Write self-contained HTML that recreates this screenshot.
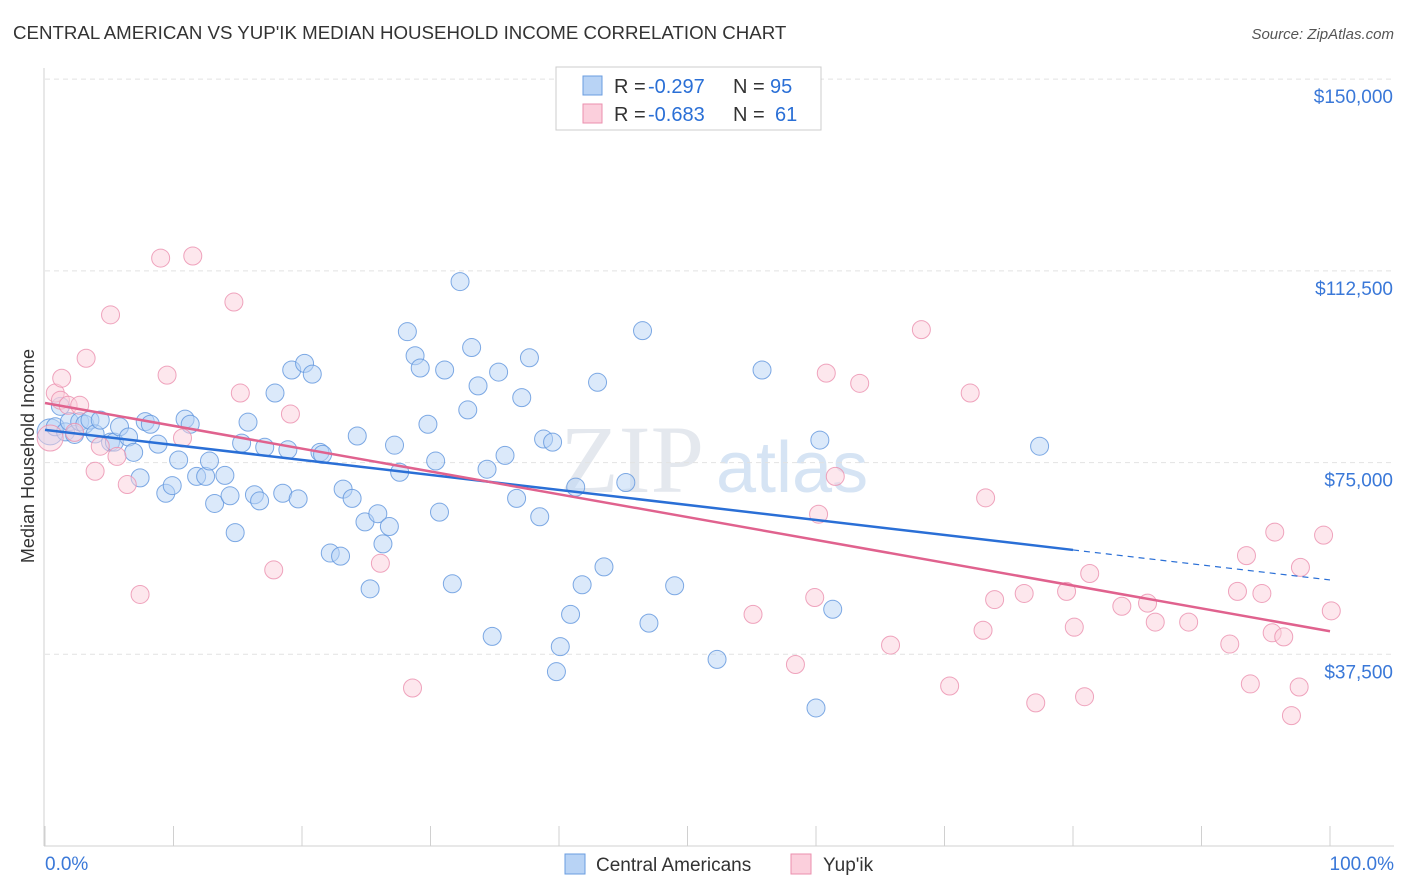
<!DOCTYPE html>
<html><head><meta charset="utf-8"><style>
body{margin:0;background:#fff;font-family:"Liberation Sans",sans-serif;}
svg{display:block}
</style></head><body>
<svg id="c" width="1406" height="892">
<text x="13" y="39" font-size="18.7" fill="#333">CENTRAL AMERICAN VS YUP'IK MEDIAN HOUSEHOLD INCOME CORRELATION CHART</text>
<text x="1394" y="39" font-size="15" fill="#555" text-anchor="end" font-style="italic">Source: ZipAtlas.com</text>
<text x="704" y="492" font-size="96" fill="#e4e8ee" text-anchor="end" font-family="Liberation Serif">ZIP</text>
<text x="716" y="492" font-size="72" fill="#d6e4f4">atlas</text>
<g id="grid"></g>
<g id="marks"></g>
<text transform="translate(34,456) rotate(-90)" font-size="18" fill="#333" text-anchor="middle">Median Household Income</text>
<g>
<rect x="556" y="67" width="265" height="63" fill="#fff" stroke="#ccc"/>
<rect x="583" y="76" width="19" height="19" fill="#b8d3f5" stroke="#6a9de0"/>
<rect x="583" y="104" width="19" height="19" fill="#fbcfdc" stroke="#eb8fae"/>
<text x="614" y="93" font-size="20" fill="#333">R =</text>
<text x="648" y="93" font-size="20" fill="#2a6fd6">-0.297</text>
<text x="733" y="93" font-size="20" fill="#333">N =</text>
<text x="770" y="93" font-size="20" fill="#2a6fd6">95</text>
<text x="614" y="121" font-size="20" fill="#333">R =</text>
<text x="648" y="121" font-size="20" fill="#2a6fd6">-0.683</text>
<text x="733" y="121" font-size="20" fill="#333">N =</text>
<text x="775" y="121" font-size="20" fill="#2a6fd6">61</text>
</g>
<g>
<rect x="565" y="854" width="20" height="20" fill="#b8d3f5" stroke="#6a9de0"/>
<text x="596" y="871" font-size="19" fill="#333">Central Americans</text>
<rect x="791" y="854" width="20" height="20" fill="#fbcfdc" stroke="#eb8fae"/>
<text x="823" y="871" font-size="19" fill="#333">Yup'ik</text>
</g>
</svg>
<script>
const yTicks=[37500,75000,112500,150000];
const yTickLabels=["$37,500","$75,000","$112,500","$150,000"];
const xTickLabels=["0.0%","100.0%"];
const blueX=[0.4,0.8,1.2,1.6,1.9,2.3,2.7,3.1,3.5,3.9,4.3,5.1,5.4,5.8,6.5,6.9,7.4,7.8,8.2,8.8,9.4,9.9,10.4,10.9,11.3,11.8,12.5,12.8,13.2,14.0,14.4,14.8,15.3,15.8,16.3,16.7,17.1,17.9,18.5,18.9,19.2,19.7,20.2,20.8,21.4,21.6,22.2,23.0,23.2,23.9,24.3,24.9,25.3,25.9,26.3,26.8,27.2,27.6,28.2,28.8,29.2,29.8,30.4,30.7,31.1,31.7,32.3,32.9,33.2,33.7,34.4,34.8,35.3,35.8,36.7,37.1,37.7,38.5,38.8,39.5,40.1,39.8,40.9,41.3,41.8,43.0,43.5,45.2,46.5,47.0,49.0,52.3,55.8,60.0,60.3,61.3,77.4];
const blueY=[81000,82000,86000,81000,83000,80500,83000,82500,83300,80600,83300,79000,79000,82000,80000,77000,72000,83000,82500,78600,69000,70500,75500,83500,82500,72300,72300,75300,67000,72500,68500,61300,78800,82900,68700,67500,78000,88600,69000,77500,93100,67900,94400,92300,77000,76600,57300,56700,69800,68000,80200,63400,50300,65000,59100,62500,78400,73100,100600,95900,93500,82500,75300,65300,93100,51300,110400,85300,97500,90000,73700,41000,92700,76400,68000,87700,95500,64400,79600,79000,39000,34100,45300,70200,51100,90700,54600,71100,100800,43600,50900,36500,93100,27000,79400,46300,78200];
const pinkX=[0.4,0.8,1.2,1.3,1.8,2.3,2.7,3.2,3.9,4.3,5.1,5.6,6.4,7.4,9.0,9.5,10.7,11.5,14.7,15.2,17.8,19.1,26.1,28.6,55.1,58.4,59.9,60.2,60.8,61.5,63.4,65.8,68.2,70.4,72.0,73.0,73.2,73.9,76.2,77.1,79.5,80.1,80.9,81.3,83.8,85.8,86.4,89.0,92.2,92.8,93.5,93.8,94.7,95.7,95.5,96.4,97.0,97.7,97.6,99.5,100.1];
const pinkY=[79800,88600,87200,91500,86200,80900,86200,95400,73300,78200,103900,76200,70700,49200,115000,92100,79800,115400,106400,88600,54000,84500,55300,30900,45300,35500,48600,64900,92500,72300,90500,39300,101000,31300,88600,42200,68100,48200,49400,28000,49800,42800,29200,53300,46900,47500,43800,43800,39500,49800,56800,31700,49400,61400,41700,40900,25500,54500,31100,60800,46000];
const svg=document.getElementById('c');
const NS='http://www.w3.org/2000/svg';
const x=v=>45+v*12.85;
const y=v=>846-v/195.6;
function mk(tag,attrs,parent){const e=document.createElementNS(NS,tag);for(const k in attrs)e.setAttribute(k,attrs[k]);parent.appendChild(e);return e;}
const grid=document.getElementById('grid'),marks=document.getElementById('marks');
yTicks.forEach((t,i)=>{
 const l=mk('line',{x1:45,x2:1394,y1:y(t),y2:y(t),stroke:'#e2e2e2','stroke-dasharray':'5,4'},grid);
 
 
 const tx=mk('text',{x:1393,y:y(t)+24,'font-size':19,fill:'#3a78d8','text-anchor':'end'},grid);
 tx.textContent=yTickLabels[i];
 
 
});
const ax=mk('line',{x1:44,x2:44,y1:68,y2:846,stroke:'#d0d0d0'},grid);


const bx=mk('line',{x1:44,x2:1394,y1:846,y2:846,stroke:'#d0d0d0'},grid);


for(let i=0;i<=10;i++){
 const t=mk('line',{x1:x(i*10),x2:x(i*10),y1:826,y2:846,stroke:'#d0d0d0'},grid);
 
 
}
[[0,'start',45],[100,'end',1394]].forEach((d,i)=>{
 const t=mk('text',{x:d[2],y:870,'font-size':19,fill:'#3a78d8','text-anchor':d[1]},grid);
 t.textContent=xTickLabels[i];
 
 
});
function dots(X,Y,fill,stroke,name){
 X.forEach((v,i)=>{
  const c=mk('circle',{cx:x(v),cy:y(Y[i]),r:i==0?13:9,fill:fill,stroke:stroke,'stroke-width':1,'fill-opacity':0.5,'stroke-opacity':0.8},marks);
  
  
 });
}
dots(blueX,blueY,'#b8d3f5','#5f95dd','central-american-point');
dots(pinkX,pinkY,'#fbcfdc','#eb8fae','yupik-point');
function fit(X,Y){const n=X.length;let mx=0,my=0;X.forEach((v,i)=>{mx+=v;my+=Y[i]});mx/=n;my/=n;let sxy=0,sxx=0;X.forEach((v,i)=>{sxy+=(v-mx)*(Y[i]-my);sxx+=(v-mx)**2});const b=sxy/sxx;return [my-b*mx,b];}
const [ba,bb]=fit(blueX,blueY),[pa,pb]=fit(pinkX,pinkY);
let l1=mk('line',{x1:x(0),y1:y(ba),x2:x(80),y2:y(ba+bb*80),stroke:'#2a6fd6','stroke-width':2.5},marks);


let l2=mk('line',{x1:x(80),y1:y(ba+bb*80),x2:x(100),y2:y(ba+bb*100),stroke:'#2a6fd6','stroke-width':1.2,'stroke-dasharray':'6,5'},marks);


let l3=mk('line',{x1:x(0),y1:y(pa),x2:x(100),y2:y(pa+pb*100),stroke:'#e0628e','stroke-width':2.5},marks);


</script>
</body></html>
